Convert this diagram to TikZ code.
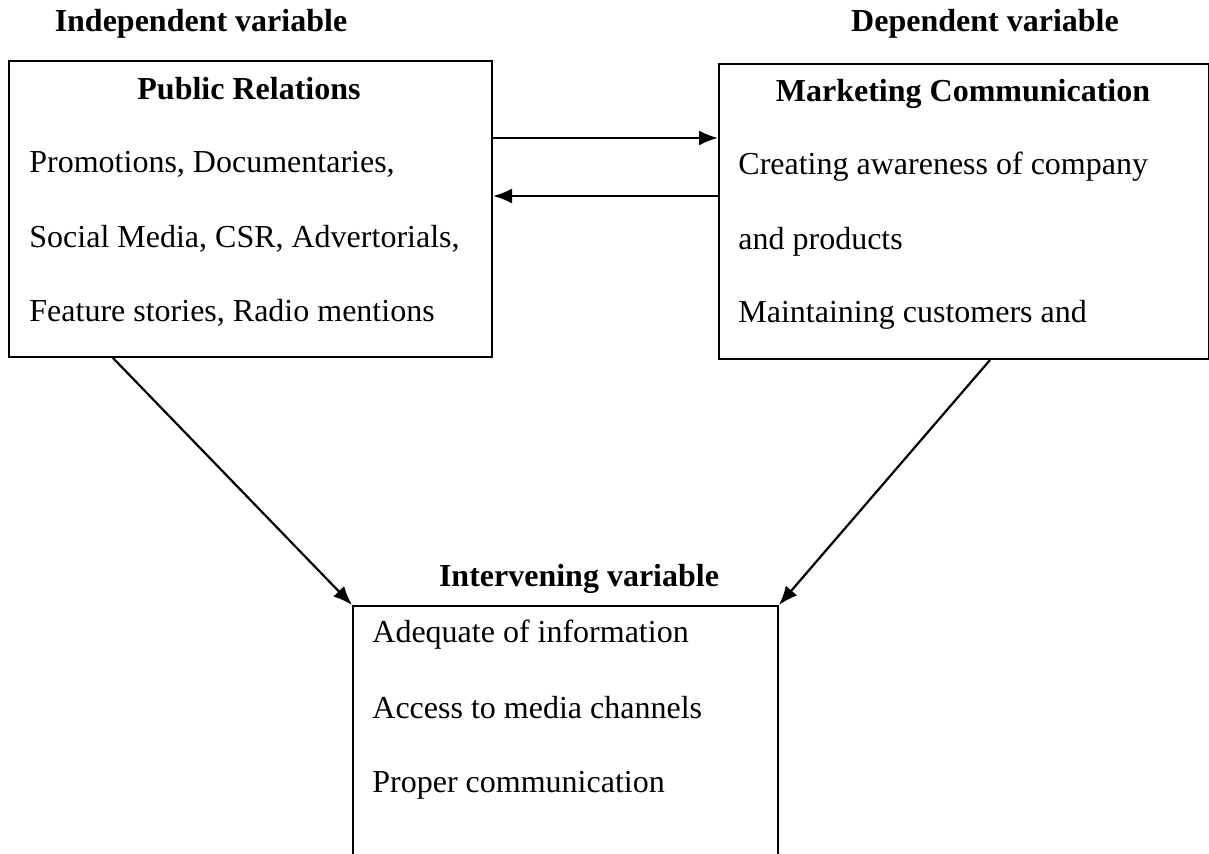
\documentclass[tikz,border=0pt]{standalone}
\usepackage{fontspec}
\setmainfont{Liberation Serif}
\usetikzlibrary{arrows.meta}
\begin{document}
\begin{tikzpicture}[x=0.5pt,y=-0.5pt,
  box/.style={draw,line width=1pt,anchor=north west,inner sep=0pt},
  txt/.style={anchor=base west,inner sep=0pt,font=\fontsize{16}{19}\selectfont},
  ttl/.style={anchor=base,inner sep=0pt,font=\fontsize{16}{19}\selectfont\bfseries},
  arr/.style={line width=1.1pt,-{Latex[length=9.5pt,width=7.5pt]}}]
\clip (0,0) rectangle (1209,854);
\useasboundingbox (0,0) rectangle (1209,854);
\fill[white] (0,0) rectangle (1209,854);
% boxes
\node[box,minimum width=241.5pt,minimum height=148pt] (PR) at (8,60) {};
\node[box,minimum width=245pt,minimum height=147.5pt] (MC) at (718,63) {};
\node[box,minimum width=212.5pt,minimum height=160pt] (IV) at (352,605) {};
% headings
\node[ttl] (h1) at (201,32) {Independent variable};
\node[ttl] (h2) at (985,32) {Dependent variable};
\node[ttl] (h3) at (579,587) {Intervening variable};
\node[ttl] (t1) at (249,100) {Public Relations};
\node[ttl] (t2) at (963,102) {Marketing Communication};
% left texts
\node[txt] (l1) at (29,173) {Promotions, Documentaries,};
\node[txt] (l2) at (29,248) {Social Media, CSR, Advertorials,};
\node[txt] (l3) at (29,322) {Feature stories, Radio mentions};
% right texts
\node[txt] (r1) at (738,175) {Creating awareness of company};
\node[txt] (r2) at (738,250) {and products};
\node[txt] (r3) at (738,323) {Maintaining customers and};
% bottom texts
\node[txt] (b1) at (372,643) {Adequate of information};
\node[txt] (b2) at (372,718) {Access to media channels};
\node[txt] (b3) at (372,792) {Proper communication};
% connectors
\coordinate (pa) at (113,356);
\coordinate (pb) at (990,358);
\draw[arr] (PR.east |- 0,138) -- (MC.west |- 0,138);
\draw[arr] (MC.west |- 0,196) -- (PR.east |- 0,196);
\draw[arr] (PR.south -| pa) -- (IV.north west);
\draw[arr] (MC.south -| pb) -- (IV.north east);
\end{tikzpicture}
\end{document}
